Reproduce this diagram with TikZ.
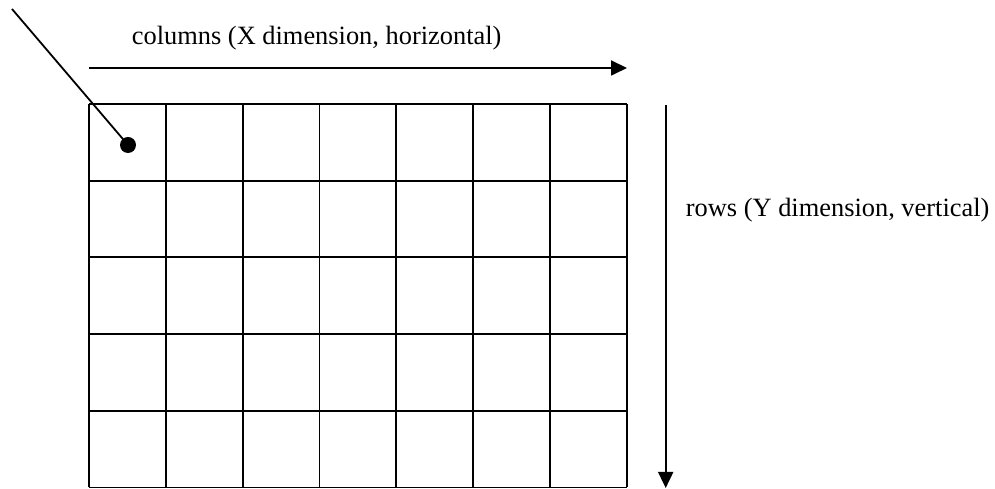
\documentclass[tikz,border=0pt]{standalone}
\usepackage{fontspec}
\setmainfont{Liberation Serif}
\usetikzlibrary{arrows.meta,positioning}

\begin{document}
\begin{tikzpicture}[x=1pt, y=1pt, line width=1.8pt,
  every node/.style={font=\fontsize{26.4}{30}\selectfont, inner sep=0pt},
  dim/.style={-{Triangle[length=16pt,width=15pt]}}]
  \useasboundingbox (0,0) rectangle (995,489);

  % Raster
  \foreach \i in {0,...,7} \draw (89+76.8*\i,1.5) -- (89+76.8*\i,385);
  \foreach \j in {0,...,5} \draw (89,1.5+76.7*\j) -- (626.6,1.5+76.7*\j);

  % Markierte Zelle
  \node[circle, fill, minimum size=16pt] (dot) at (128,344) {};
  \coordinate (lead) at (12,480);
  \draw (lead) -- (dot.center);

  % Spalten
  \coordinate (xa) at (89,421);
  \coordinate (xb) at (627,421);
  \draw[dim] (xa) -- (xb);
  \node[anchor=base west] (xlabel) at (131,444) {columns (X dimension, horizontal)};

  % Zeilen
  \coordinate (ya) at (665.7,384);
  \coordinate (yb) at (665.7,1);
  \draw[dim] (ya) -- (yb);
  \node[anchor=base west] (ylabel) at (685,272) {rows (Y dimension, vertical)};
\end{tikzpicture}
\end{document}
